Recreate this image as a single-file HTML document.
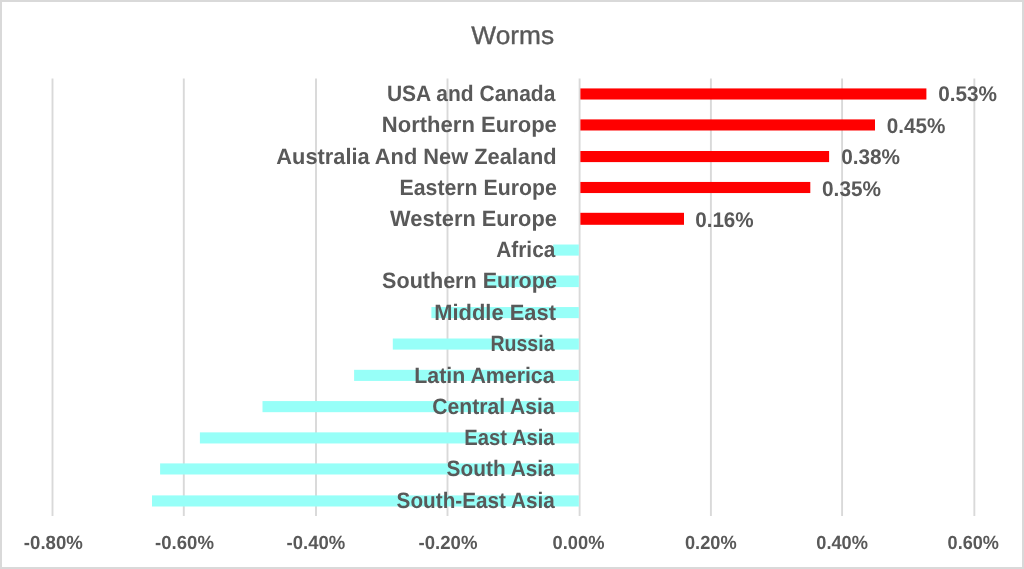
<!DOCTYPE html>
<html><head><meta charset="utf-8"><title>Worms</title>
<style>
html,body{margin:0;padding:0;background:#fff;}
body{width:1024px;height:569px;overflow:hidden;}
svg{display:block;will-change:transform;font-family:"Liberation Sans",sans-serif;}
text{white-space:pre;text-rendering:geometricPrecision;}
</style></head><body>
<svg width="1024" height="569" viewBox="0 0 1024 569">
<rect x="0" y="0" width="1024" height="569" fill="#fff"/>
<line x1="52.50" y1="78.5" x2="52.50" y2="516.0" stroke="#d9d9d9" stroke-width="1.9"/>
<line x1="183.80" y1="78.5" x2="183.80" y2="516.0" stroke="#d9d9d9" stroke-width="1.9"/>
<line x1="316.00" y1="78.5" x2="316.00" y2="516.0" stroke="#d9d9d9" stroke-width="1.9"/>
<line x1="447.50" y1="78.5" x2="447.50" y2="516.0" stroke="#d9d9d9" stroke-width="1.9"/>
<line x1="579.60" y1="78.5" x2="579.60" y2="516.0" stroke="#d9d9d9" stroke-width="1.9"/>
<line x1="710.90" y1="78.5" x2="710.90" y2="516.0" stroke="#d9d9d9" stroke-width="1.9"/>
<line x1="842.10" y1="78.5" x2="842.10" y2="516.0" stroke="#d9d9d9" stroke-width="1.9"/>
<line x1="974.35" y1="78.5" x2="974.35" y2="516.0" stroke="#d9d9d9" stroke-width="1.9"/>
<rect x="580.4" y="88.42" width="346.00" height="11.1" fill="#ff0000"/>
<rect x="580.4" y="119.40" width="294.60" height="11.1" fill="#ff0000"/>
<rect x="580.4" y="151.00" width="248.70" height="11.1" fill="#ff0000"/>
<rect x="580.4" y="181.95" width="229.90" height="11.1" fill="#ff0000"/>
<rect x="580.4" y="212.80" width="103.60" height="12.0" fill="#ff0000"/>
<rect x="553.10" y="244.52" width="25.75" height="11.1" fill="#97fff8"/>
<rect x="485.00" y="275.50" width="93.85" height="11.6" fill="#97fff8"/>
<rect x="431.40" y="307.05" width="147.45" height="11.1" fill="#97fff8"/>
<rect x="392.80" y="338.50" width="186.05" height="11.1" fill="#97fff8"/>
<rect x="354.10" y="369.82" width="224.75" height="11.1" fill="#97fff8"/>
<rect x="262.50" y="401.08" width="316.35" height="11.1" fill="#97fff8"/>
<rect x="199.90" y="432.37" width="378.95" height="11.1" fill="#97fff8"/>
<rect x="160.10" y="463.40" width="418.75" height="11.1" fill="#97fff8"/>
<rect x="152.00" y="495.40" width="426.85" height="11.1" fill="#97fff8"/>
<text transform="translate(471.37,44.30) scale(1.0273,1)" font-size="25.6" font-weight="normal" fill="#595959" stroke="#595959" stroke-width="0.35">Worms</text>
<text transform="translate(386.90,101.25) scale(0.9422,1)" font-size="22.3" font-weight="bold" fill="#595959">USA and Canada</text>
<text transform="translate(381.82,132.05) scale(0.9880,1)" font-size="22.3" font-weight="bold" fill="#595959">Northern Europe</text>
<text transform="translate(276.34,163.93) scale(0.9777,1)" font-size="22.3" font-weight="bold" fill="#595959">Australia And New Zealand</text>
<text transform="translate(399.57,194.88) scale(0.9541,1)" font-size="22.3" font-weight="bold" fill="#595959">Eastern Europe</text>
<text transform="translate(390.10,225.79) scale(0.9776,1)" font-size="22.3" font-weight="bold" fill="#595959">Western Europe</text>
<text transform="translate(496.32,257.25) scale(0.9325,1)" font-size="22.3" font-weight="bold" fill="#595959">Africa</text>
<text transform="translate(382.10,288.10) scale(0.9664,1)" font-size="22.3" font-weight="bold" fill="#595959">Southern Europe</text>
<text transform="translate(434.23,319.88) scale(0.9822,1)" font-size="22.3" font-weight="bold" fill="#595959">Middle East</text>
<text transform="translate(490.38,350.88) scale(0.8782,1)" font-size="22.3" font-weight="bold" fill="#595959">Russia</text>
<text transform="translate(414.26,382.88) scale(0.9572,1)" font-size="22.3" font-weight="bold" fill="#595959">Latin America</text>
<text transform="translate(432.37,413.88) scale(0.9458,1)" font-size="22.3" font-weight="bold" fill="#595959">Central Asia</text>
<text transform="translate(464.34,445.45) scale(0.9061,1)" font-size="22.3" font-weight="bold" fill="#595959">East Asia</text>
<text transform="translate(446.62,476.40) scale(0.9341,1)" font-size="22.3" font-weight="bold" fill="#595959">South Asia</text>
<text transform="translate(396.62,508.30) scale(0.9294,1)" font-size="22.3" font-weight="bold" fill="#595959">South-East Asia</text>
<text transform="translate(938.14,101.45) scale(0.9800,1)" font-size="21.2" font-weight="bold" fill="#595959">0.53%</text>
<text transform="translate(886.65,133.12) scale(0.9766,1)" font-size="21.2" font-weight="bold" fill="#595959">0.45%</text>
<text transform="translate(841.14,164.05) scale(0.9800,1)" font-size="21.2" font-weight="bold" fill="#595959">0.38%</text>
<text transform="translate(822.04,195.75) scale(0.9817,1)" font-size="21.2" font-weight="bold" fill="#595959">0.35%</text>
<text transform="translate(695.15,226.75) scale(0.9749,1)" font-size="21.2" font-weight="bold" fill="#595959">0.16%</text>
<text transform="translate(23.87,548.65) scale(0.9752,1)" font-size="19.1" font-weight="bold" fill="#595959">-0.80%</text>
<text transform="translate(155.07,548.65) scale(0.9735,1)" font-size="19.1" font-weight="bold" fill="#595959">-0.60%</text>
<text transform="translate(286.57,548.65) scale(0.9693,1)" font-size="19.1" font-weight="bold" fill="#595959">-0.40%</text>
<text transform="translate(418.57,548.65) scale(0.9735,1)" font-size="19.1" font-weight="bold" fill="#595959">-0.20%</text>
<text transform="translate(552.58,548.65) scale(0.9585,1)" font-size="19.1" font-weight="bold" fill="#595959">0.00%</text>
<text transform="translate(684.98,548.65) scale(0.9547,1)" font-size="19.1" font-weight="bold" fill="#595959">0.20%</text>
<text transform="translate(816.28,548.65) scale(0.9547,1)" font-size="19.1" font-weight="bold" fill="#595959">0.40%</text>
<text transform="translate(947.59,548.65) scale(0.9491,1)" font-size="19.1" font-weight="bold" fill="#595959">0.60%</text>
<rect x="1" y="1" width="1022" height="567" fill="none" stroke="#d9d9d9" stroke-width="2"/>
</svg>
</body></html>
